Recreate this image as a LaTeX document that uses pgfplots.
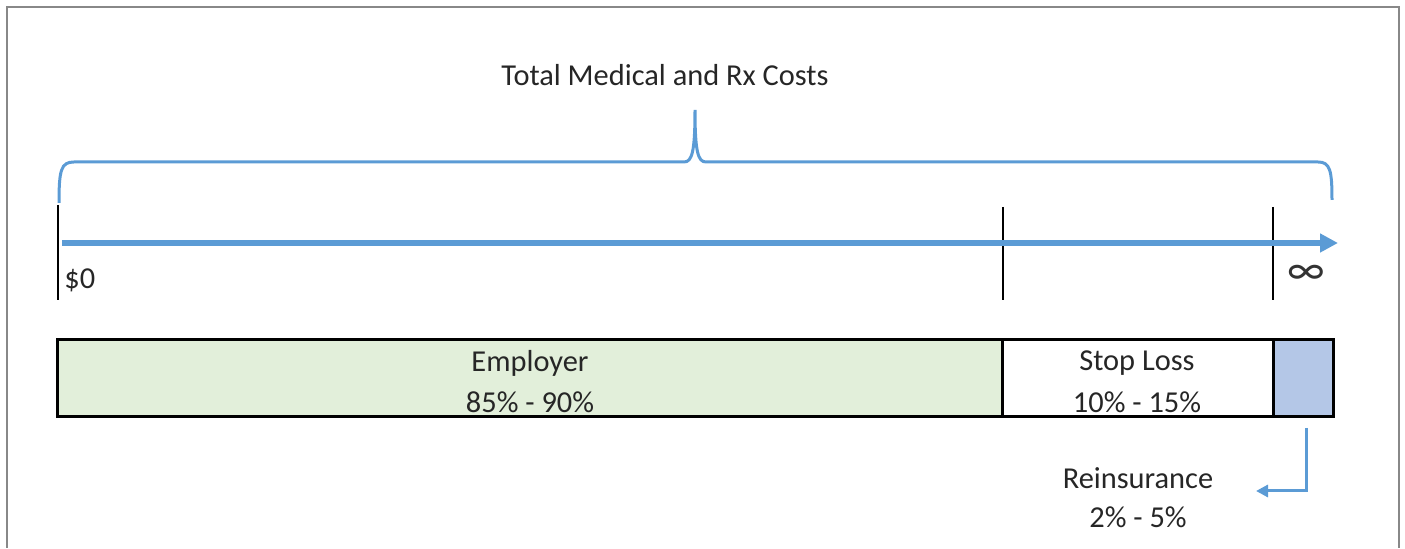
\documentclass[border=0pt]{standalone}
\usepackage{pgfplots}
\pgfplotsset{compat=1.18}
\usepackage{fontspec}
\setmainfont{Carlito}
\usetikzlibrary{arrows.meta}
\definecolor{lineblue}{HTML}{5B9BD5}
\definecolor{empgreen}{HTML}{E2EFDA}
\definecolor{reblue}{HTML}{B4C7E7}
\definecolor{framegray}{HTML}{888888}
\newcommand{\lab}{\fontsize{15.2}{18}\selectfont}
\begin{document}
\begin{tikzpicture}[font=\lab]
\begin{axis}[
  scale only axis, width=702.5pt, height=274pt,
  xmin=0, xmax=1405, ymin=0, ymax=548, y dir=reverse,
  axis lines=none, clip=false,
]
% full picture extent
\addplot[draw=none, forget plot] coordinates {(0,0) (1405,548)};
% frame
\addplot[framegray, line width=1pt] coordinates {(7,548) (7,7) (1399,7) (1399,548)};
% cost segments (pixel positions along the bar)
\addplot[fill=empgreen, draw=none] coordinates {(57,340) (1002,340) (1002,417) (57,417)} -- cycle;
\addplot[fill=white, draw=none] coordinates {(1002,340) (1273,340) (1273,417) (1002,417)} -- cycle;
\addplot[fill=reblue, draw=none] coordinates {(1273,340) (1333,340) (1333,417) (1273,417)} -- cycle;
\addplot[black, line width=1.5pt] coordinates {(57,340) (1333,340) (1333,417) (57,417)} -- cycle;
\addplot[black, line width=1.5pt] coordinates {(1002,340) (1002,417)};
\addplot[black, line width=1.5pt] coordinates {(1273,340) (1273,417)};
% vertical markers on the axis
\addplot[black, line width=0.8pt] coordinates {(58,205) (58,300)};
\addplot[black, line width=0.8pt] coordinates {(1003,207) (1003,300)};
\addplot[black, line width=0.8pt] coordinates {(1273,207) (1273,300)};
% cost axis arrow
\addplot[lineblue, line width=2.7pt, -{Triangle[length=9pt,width=9pt]}] coordinates {(62,243) (1338,243)};
% brace
\draw[lineblue, line width=1.5pt]
  (axis cs:59,203) .. controls (axis cs:59,170) and (axis cs:61,162) .. (axis cs:74,162)
  -- (axis cs:684,162) .. controls (axis cs:692,162) and (axis cs:695,152) .. (axis cs:695,110)
  .. controls (axis cs:695,152) and (axis cs:698,162) .. (axis cs:706,162)
  -- (axis cs:1318,162) .. controls (axis cs:1330,162) and (axis cs:1332,170) .. (axis cs:1332,200);
% reinsurance arrow
\addplot[lineblue, line width=1.5pt, -{Triangle[length=6pt,width=6pt]}] coordinates {(1306,428) (1306,491) (1256,491)};
% labels
\node[font=\lab, text=black!85] at (axis cs:665,75) {Total Medical and Rx Costs};
\node[font=\lab, text=black!85, anchor=west, inner sep=0pt] at (axis cs:64,280) {\$0};
\node[text=black!80, font=\fontsize{22}{24}\selectfont] at (axis cs:1306,275) {\symbol{"221E}};
\node[font=\lab, text=black!85] at (axis cs:530,363) {Employer};
\node[font=\lab, text=black!85] at (axis cs:530,402) {85\% - 90\%};
\node[font=\lab, text=black!85] at (axis cs:1137,363) {Stop Loss};
\node[font=\lab, text=black!85] at (axis cs:1137,402) {10\% - 15\%};
\node[font=\lab, text=black!85] at (axis cs:1138,478) {Reinsurance};
\node[font=\lab, text=black!85] at (axis cs:1138,517) {2\% - 5\%};
\end{axis}
\end{tikzpicture}
\end{document}
